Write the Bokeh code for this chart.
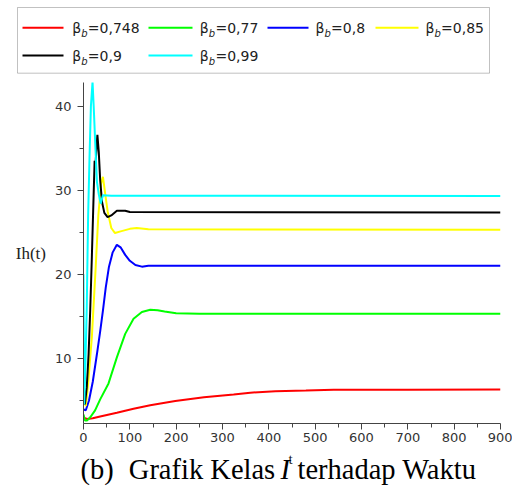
from bokeh.plotting import figure
from bokeh.layouts import column
from bokeh.models import Range1d, FixedTicker, Label, Arrow, BoxAnnotation
from bokeh.embed import file_html
from bokeh.resources import INLINE

# ---- data ----
t_red = [0, 3, 8, 20, 36, 72, 108, 144, 198, 260, 324, 360, 414, 480, 540, 700, 900]
ih_red = [3.1, 2.85, 2.76, 2.85, 3.06, 3.5, 3.98, 4.4, 4.9, 5.35, 5.68, 5.9, 6.07, 6.15, 6.24, 6.26, 6.27]

t_green = [0, 3, 8, 15, 25, 36, 54, 72, 90, 108, 126, 144, 160, 175, 200, 250, 900]
ih_green = [3.3, 2.6, 2.6, 3.0, 3.8, 5.1, 7.0, 10.1, 12.9, 14.7, 15.5, 15.76, 15.7, 15.55, 15.35, 15.3, 15.3]

t_blue = [0, 5, 12, 20, 29, 36, 42, 48, 55, 63, 72, 80, 90, 100, 112, 126, 140, 900]
ih_blue = [3.9, 3.8, 5.0, 7.2, 10.5, 13.2, 15.7, 18.4, 20.9, 22.6, 23.5, 23.2, 22.3, 21.6, 21.1, 20.9, 21.0, 21.0]

t_yellow = [0, 2, 5, 10, 18, 22, 26, 32, 38, 42, 47, 52, 60, 68, 80, 100, 115, 140, 900]
ih_yellow = [8.2, 5.0, 4.3, 7.0, 12.5, 16.5, 20.5, 27.0, 30.8, 31.6, 29.5, 27.5, 25.5, 24.9, 25.1, 25.4, 25.5, 25.35, 25.3]

t_black = [0, 3, 7, 11, 14.5, 18, 21, 24, 26, 30, 33, 36, 40, 45, 52, 60, 72, 90, 100, 900]
ih_black = [8.0, 4.5, 6.5, 10.5, 15.7, 22.0, 27.8, 33.5, 33.2, 36.6, 34.5, 31.2, 28.6, 27.3, 26.8, 27.0, 27.55, 27.55, 27.4, 27.35]

t_cyan = [0, 1.5, 4, 7, 10, 13, 16, 19.5, 22, 25, 29, 33, 37, 42, 60, 900]
ih_cyan = [20.0, 4.5, 9.0, 16.0, 27.0, 34.0, 40.0, 42.9, 40.0, 36.0, 31.0, 29.5, 28.4, 29.4, 29.35, 29.3]

beta_values = ["0,748", "0,77", "0,8", "0,85", "0,9", "0,99"]
colors = ["#ff0000", "#00ff00", "#0000ff", "#ffff00", "#000000", "#00ffff"]

x_ticks = [0, 100, 200, 300, 400, 500, 600, 700, 800, 900]
x_minor = [50, 150, 250, 350, 450, 550, 650, 750, 850]
y_ticks = [10, 20, 30, 40]
y_minor = [5, 15, 25, 35]

series = [(t_red, ih_red), (t_green, ih_green), (t_blue, ih_blue),
          (t_yellow, ih_yellow), (t_black, ih_black), (t_cyan, ih_cyan)]

W = 512
LEG_H, MAIN_H, CAP_H = 76, 372, 40


def bare(height):
    f = figure(width=W, height=height, x_axis_type=None, y_axis_type=None,
               x_range=Range1d(0, 1), y_range=Range1d(0, 1),
               output_backend="svg", toolbar_location=None, title=None,
               min_border=0, min_border_left=0, min_border_right=0,
               min_border_top=0, min_border_bottom=0, frame_align=False)
    f.outline_line_color = None
    f.grid.visible = False
    return f


# ---- legend strip (page y 0..76) ----
leg = bare(LEG_H)
def ly(y):
    return LEG_H - y

leg.add_layout(BoxAnnotation(left=17, right=489, top=ly(7), bottom=ly(72.7),
                             left_units="screen", right_units="screen",
                             top_units="screen", bottom_units="screen",
                             fill_alpha=0, line_color="#333333", line_width=1))

sample_x = [(22, 63), (148, 192), (267, 308), (375, 418), (22, 63), (148, 192)]
text_x = [71.7, 199.3, 315, 425, 71.7, 199.3]
row_line_y = [27.3, 27.3, 27.3, 27.3, 55, 55]
row_base_y = [27, 27, 27, 27, 55, 55]

for i in range(6):
    x0, x1 = sample_x[i]
    leg.add_layout(Arrow(x_start=x0, y_start=ly(row_line_y[i]), x_end=x1, y_end=ly(row_line_y[i]),
                         start_units="screen", end_units="screen", end=None,
                         line_color=colors[i], line_width=2))
    leg.add_layout(Label(x=text_x[i], y=ly(row_base_y[i]), x_units="screen", y_units="screen",
                         text="β", text_font="DejaVu Sans", text_font_size="14px",
                         text_color="#222222", text_baseline="alphabetic"))
    leg.add_layout(Label(x=text_x[i] + 9.0, y=ly(row_base_y[i] + 6), x_units="screen", y_units="screen",
                         text="b", text_font="DejaVu Sans", text_font_size="10px", text_font_style="italic",
                         text_color="#222222", text_baseline="alphabetic"))
    leg.add_layout(Label(x=text_x[i] + 15.6, y=ly(row_base_y[i]), x_units="screen", y_units="screen",
                         text="=" + beta_values[i], text_font="DejaVu Sans", text_font_size="14px",
                         text_color="#222222", text_baseline="alphabetic"))

# ---- main plot (page y 76..448) ----
p = figure(width=W, height=MAIN_H, x_range=Range1d(0, 900), y_range=Range1d(2.23, 42.82),
           output_backend="svg", toolbar_location=None, title=None, frame_align=False,
           min_border_left=83, min_border_right=12, min_border_top=6, min_border_bottom=25)
p.outline_line_color = None
p.grid.visible = False

for (tt, yy), c in zip(series, colors):
    p.line(tt, yy, line_color=c, line_width=2)

for ax in (p.xaxis[0], p.yaxis[0]):
    ax.axis_line_color = "#444444"
    ax.major_tick_line_color = "#444444"
    ax.minor_tick_line_color = "#444444"
    ax.major_tick_in = 0
    ax.major_tick_out = 6
    ax.minor_tick_in = 0
    ax.minor_tick_out = 4
    ax.major_label_text_font = "DejaVu Sans"
    ax.major_label_text_font_size = "13px"
    ax.major_label_text_color = "#333333"

p.xaxis.ticker = FixedTicker(ticks=x_ticks, minor_ticks=x_minor)
p.yaxis.ticker = FixedTicker(ticks=y_ticks, minor_ticks=y_minor)
p.xaxis.major_label_standoff = 3
p.yaxis.major_label_standoff = 6

p.yaxis.axis_label = "Ih(t)"
p.yaxis.axis_label_orientation = "horizontal"
p.yaxis.axis_label_text_font = "Liberation Serif"
p.yaxis.axis_label_text_font_size = "17px"
p.yaxis.axis_label_text_font_style = "normal"
p.yaxis.axis_label_text_color = "#222222"
p.yaxis.axis_label_standoff = 6

# ---- caption strip (page y 448..488) ----
cap = bare(CAP_H)
def cy(y):
    return CAP_H - (y - (LEG_H + MAIN_H))

cap.add_layout(Label(x=290, y=cy(458), x_units="screen", y_units="screen", text="t",
                     text_font="Liberation Serif", text_font_size="15px", text_color="#222222",
                     text_align="center", text_baseline="alphabetic"))

cap_y = 469
cap_font = "Liberation Serif"
for x, txt, style in [(80, "(b)", "normal"), (128.3, "Grafik Kelas", "normal"),
                      (280, "I", "italic"), (297, "terhadap Waktu", "normal")]:
    cap.add_layout(Label(x=x, y=cy(cap_y), x_units="screen", y_units="screen", text=txt,
                         text_font=cap_font, text_font_size="28.5px", text_font_style=style,
                         text_color="black", text_baseline="alphabetic"))

layout = column(leg, p, cap, spacing=0)
open("out.html", "w").write(file_html(layout, INLINE))
